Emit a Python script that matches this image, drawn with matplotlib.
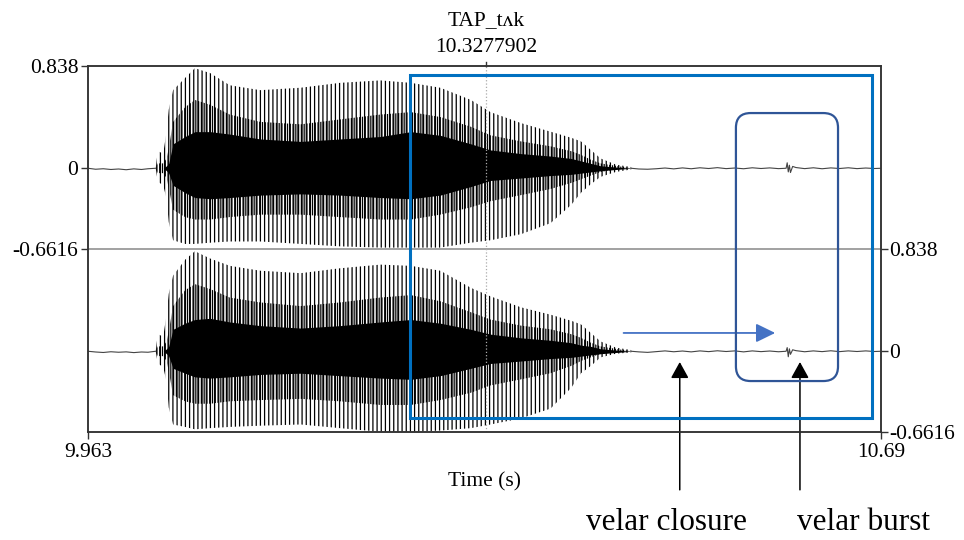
import numpy as np
import matplotlib.pyplot as plt
from matplotlib.patches import Rectangle, FancyBboxPatch

plt.rcParams['font.family'] = ['Liberation Serif', 'DejaVu Serif']
plt.rcParams['hatch.linewidth'] = 0.9
plt.rcParams['hatch.color'] = 'black'

# --- axis range of the sound window ---
T_START, T_END = 9.963, 10.69
Y_MAX, Y_MIN = 0.838, -0.6616
CURSOR_T = 10.3277902
CURSOR_LABEL = "TAP_tʌk"

# --- amplitude envelopes of the vowel (s, amplitude) ---
env_t = [10.025, 10.027, 10.032, 10.035, 10.037, 10.041, 10.052, 10.061, 10.075,
         10.093, 10.121, 10.158, 10.194, 10.231, 10.259, 10.286, 10.314, 10.332,
         10.360, 10.387, 10.406, 10.415, 10.424, 10.433, 10.447, 10.461]

# channel 1 (top)
ch1_outer_up = [0.0, 0.14, 0.12, 0.30, 0.48, 0.64, 0.74, 0.82, 0.78, 0.68, 0.64, 0.66, 0.70,
                0.72, 0.70, 0.66, 0.56, 0.46, 0.37, 0.30, 0.25, 0.22, 0.15, 0.08, 0.03, 0.01]
ch1_outer_lo = [0.0, -0.11, -0.14, -0.25, -0.44, -0.59, -0.62, -0.62, -0.61, -0.60, -0.60, -0.62, -0.64,
                -0.65, -0.65, -0.65, -0.61, -0.59, -0.54, -0.45, -0.30, -0.20, -0.13, -0.07, -0.03, -0.01]
ch1_mid_up = [0.0, 0.04, 0.04, 0.08, 0.16, 0.38, 0.50, 0.56, 0.52, 0.44, 0.38, 0.36, 0.40,
              0.44, 0.46, 0.42, 0.34, 0.27, 0.22, 0.18, 0.14, 0.11, 0.07, 0.04, 0.02, 0.0]
ch1_mid_lo = [0.0, -0.04, -0.04, -0.08, -0.16, -0.34, -0.40, -0.42, -0.42, -0.40, -0.38, -0.38, -0.40,
              -0.42, -0.42, -0.38, -0.32, -0.27, -0.22, -0.17, -0.12, -0.09, -0.06, -0.03, -0.01, 0.0]
ch1_core_up = [0.0, 0.0, 0.0, 0.02, 0.04, 0.20, 0.26, 0.30, 0.30, 0.28, 0.24, 0.22, 0.24,
               0.26, 0.30, 0.27, 0.20, 0.15, 0.12, 0.10, 0.08, 0.06, 0.04, 0.02, 0.01, 0.0]
ch1_core_lo = [0.0, 0.0, 0.0, -0.02, -0.04, -0.14, -0.20, -0.24, -0.25, -0.24, -0.22, -0.21, -0.22,
               -0.24, -0.25, -0.22, -0.15, -0.10, -0.08, -0.06, -0.05, -0.04, -0.03, -0.02, -0.01, 0.0]

# channel 2 (bottom)
ch2_outer_up = [0.0, 0.14, 0.12, 0.30, 0.47, 0.62, 0.75, 0.82, 0.76, 0.70, 0.66, 0.64, 0.68,
                0.71, 0.70, 0.66, 0.52, 0.45, 0.36, 0.30, 0.25, 0.22, 0.15, 0.08, 0.03, 0.01]
ch2_outer_lo = [0.0, -0.10, -0.13, -0.25, -0.46, -0.60, -0.62, -0.64, -0.63, -0.62, -0.61, -0.60, -0.63,
                -0.66, -0.66, -0.65, -0.63, -0.60, -0.55, -0.47, -0.30, -0.18, -0.12, -0.05, -0.02, -0.01]
ch2_mid_up = [0.0, 0.04, 0.04, 0.08, 0.16, 0.37, 0.50, 0.55, 0.51, 0.44, 0.40, 0.37, 0.40,
              0.44, 0.46, 0.41, 0.32, 0.26, 0.21, 0.18, 0.14, 0.11, 0.07, 0.04, 0.02, 0.0]
ch2_mid_lo = [0.0, -0.04, -0.04, -0.08, -0.16, -0.36, -0.41, -0.43, -0.43, -0.41, -0.40, -0.39, -0.41,
              -0.44, -0.44, -0.40, -0.34, -0.28, -0.23, -0.18, -0.12, -0.08, -0.05, -0.02, -0.01, 0.0]
ch2_core_up = [0.0, 0.0, 0.0, 0.02, 0.04, 0.18, 0.23, 0.26, 0.27, 0.24, 0.21, 0.19, 0.21,
               0.24, 0.26, 0.23, 0.18, 0.14, 0.11, 0.09, 0.07, 0.05, 0.04, 0.02, 0.01, 0.0]
ch2_core_lo = [0.0, 0.0, 0.0, -0.02, -0.04, -0.14, -0.18, -0.21, -0.22, -0.21, -0.19, -0.18, -0.20,
               -0.22, -0.23, -0.20, -0.14, -0.10, -0.08, -0.06, -0.05, -0.04, -0.03, -0.02, -0.01, 0.0]

# --- background noise before and after the vowel (incl. velar burst) ---
pre_t = [9.963, 9.970, 9.977, 9.984, 9.991, 9.998, 10.005, 10.012, 10.018, 10.025]
ch1_pre = [0.0, -0.008, -0.004, -0.010, -0.006, -0.012, -0.005, -0.010, -0.004, 0.0]
ch2_pre = [0.0, -0.006, -0.010, -0.004, -0.008, -0.005, -0.011, -0.006, -0.008, 0.0]

post_t = [10.461, 10.468, 10.476, 10.484, 10.492, 10.500, 10.508, 10.516, 10.524, 10.532,
          10.540, 10.548, 10.556, 10.564, 10.572, 10.580, 10.588, 10.596, 10.603, 10.604,
          10.605, 10.606, 10.607, 10.609, 10.612, 10.620, 10.628, 10.636, 10.644, 10.652,
          10.660, 10.668, 10.676, 10.684, 10.690]
ch1_post = [0.0, -0.006, -0.008, -0.004, 0.002, -0.005, 0.003, -0.004, 0.004, -0.002,
            0.005, -0.003, 0.002, -0.004, 0.004, -0.002, 0.003, -0.003, 0.0, 0.045,
            -0.030, 0.025, -0.035, 0.015, 0.006, -0.003, 0.004, -0.004, 0.003, -0.002,
            0.004, -0.003, 0.002, -0.002, 0.0]
ch2_post = [0.0, -0.005, -0.009, -0.003, 0.003, -0.004, 0.002, -0.005, 0.003, -0.003,
            0.004, -0.002, 0.003, -0.005, 0.003, -0.003, 0.002, -0.004, 0.0, 0.030,
            -0.045, 0.020, -0.025, 0.012, 0.005, -0.004, 0.003, -0.003, 0.004, -0.003,
            0.003, -0.002, 0.003, -0.002, 0.0]

OFFSET = Y_MAX - Y_MIN  # channel 1 sits above channel 2
FRAME = '#333333'


def draw_channel(ax, off, outer, mid, core, pre, post):
    t = np.array(env_t)
    ax.fill_between(t, off + np.array(outer[1]), off + np.array(outer[0]),
                    facecolor='none', edgecolor='black', hatch='||||', linewidth=0)
    ax.fill_between(t, off + np.array(mid[1]), off + np.array(mid[0]),
                    facecolor='none', edgecolor='black', hatch='||||||', linewidth=0)
    ax.fill_between(t, off + np.array(core[1]), off + np.array(core[0]),
                    color='black', linewidth=0)
    ax.plot(pre_t, off + np.array(pre), color='#444444', lw=0.8)
    ax.plot(post_t, off + np.array(post), color='#444444', lw=0.8)


fig = plt.figure(figsize=(9.64, 5.4), dpi=100)
ax = fig.add_axes([88 / 964, 108 / 540, 793 / 964, 366 / 540])
ax.set_xlim(T_START, T_END)
ax.set_ylim(Y_MIN, Y_MAX + OFFSET)

draw_channel(ax, OFFSET, (ch1_outer_up, ch1_outer_lo), (ch1_mid_up, ch1_mid_lo),
             (ch1_core_up, ch1_core_lo), ch1_pre, ch1_post)
draw_channel(ax, 0.0, (ch2_outer_up, ch2_outer_lo), (ch2_mid_up, ch2_mid_lo),
             (ch2_core_up, ch2_core_lo), ch2_pre, ch2_post)

# channel separator and cursor
ax.axhline(Y_MAX, color='#888888', lw=1.1)
ax.axvline(CURSOR_T, color='#aaaaaa', ls=':', lw=0.9)
ax.plot([CURSOR_T, CURSOR_T], [1.0, 1.012], transform=ax.get_xaxis_transform(),
        clip_on=False, color=FRAME, lw=1.0)
ax.text(CURSOR_T, 1.112, CURSOR_LABEL, transform=ax.get_xaxis_transform(),
        ha='center', va='baseline', fontsize=15.5)
ax.text(CURSOR_T, 1.038, f"{CURSOR_T:.7f}", transform=ax.get_xaxis_transform(),
        ha='center', va='baseline', fontsize=15.5)

# ticks: left for channel 1, right for channel 2
ax.set_yticks([Y_MAX + OFFSET, OFFSET, Y_MIN + OFFSET])
ax.set_yticklabels([f"{Y_MAX:g}", "0", f"{Y_MIN:g}"])
ax.set_xticks([T_START, T_END])
ax.set_xticklabels([f"{T_START:g}", f"{T_END:g}"])
ax.tick_params(direction='out', length=5, width=1, color=FRAME, labelsize=15.5)
ax.tick_params(axis='y', pad=2)
ax.tick_params(axis='x', pad=3)

ax2 = ax.twinx()
ax2.set_ylim(Y_MIN, Y_MAX + OFFSET)
ax2.set_yticks([Y_MAX, 0, Y_MIN])
ax2.set_yticklabels([f"{Y_MAX:g}", "0", f"{Y_MIN:g}"])
ax2.tick_params(direction='out', length=5, width=1, color=FRAME, labelsize=15.5, pad=1)

for a in (ax, ax2):
    for s in a.spines.values():
        s.set_color(FRAME)
        s.set_linewidth(1.1)

ax.text(0.5, -0.150, "Time (s)", transform=ax.transAxes, ha='center', va='baseline', fontsize=15.5)

# highlighted region (vowel offset to end) and the closure/burst box
ax.add_patch(Rectangle((10.258, -0.547), 10.682 - 10.258, 2.264 + 0.547, fill=False,
                       ec='#0070C0', lw=2.2, clip_on=False, zorder=5))
px_x = 793 / (T_END - T_START)
px_y = 366 / (2 * OFFSET)
ax.add_patch(FancyBboxPatch((10.557, -0.244), 10.6506 - 10.557, 1.952 + 0.244,
                            boxstyle='round,pad=0,rounding_size=0.0135',
                            mutation_aspect=px_x / px_y, fc='none', ec='#2F5597',
                            lw=1.6, zorder=5))

# closure arrow
ax.annotate('', xy=(10.593, 0.15), xytext=(10.454, 0.15),
            arrowprops=dict(arrowstyle='-|>,head_length=0.45,head_width=0.22',
                            color='#4472C4', lw=1.3, mutation_scale=26,
                            shrinkA=0, shrinkB=0))

# pointers to closure and burst
for t_arrow, t_text, label in [(10.5055, 10.4936, "velar closure"),
                               (10.6157, 10.6735, "velar burst")]:
    ax.annotate('', xy=(t_arrow, -0.088), xycoords='data',
                xytext=(t_arrow, -0.158), textcoords=ax.get_xaxis_transform(),
                arrowprops=dict(arrowstyle='-|>,head_length=0.38,head_width=0.21',
                                color='black', lw=1.1, mutation_scale=26,
                                shrinkA=0, shrinkB=0),
                annotation_clip=False)
    ax.text(t_text, -0.268, label, transform=ax.get_xaxis_transform(),
            ha='center', va='baseline', fontsize=22.5)

fig.savefig('out.png', dpi=100)
